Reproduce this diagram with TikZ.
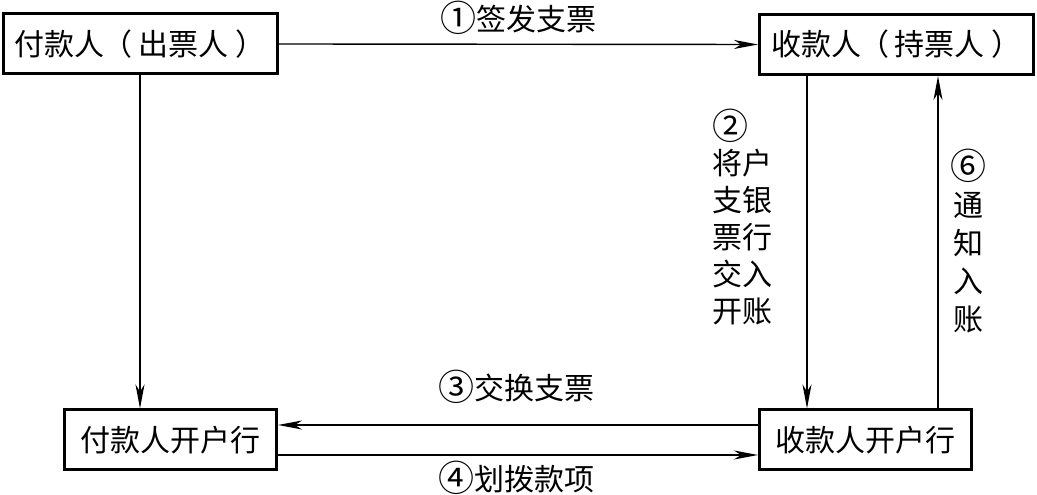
\documentclass[tikz,border=0pt]{standalone}
\usepackage{fontspec}
\usepackage{graphicx}
\newfontfamily\cjk{Noto Sans CJK SC}
\newcommand\circnum[1]{\raisebox{-1.5pt}{\scalebox{1.2}{#1}}}
\usetikzlibrary{arrows.meta}
\begin{document}
\begin{tikzpicture}[x=1pt,y=1pt,
  box/.style={draw,line width=3pt,inner sep=0pt,minimum height=60pt,font=\cjk\fontsize{30}{36}\selectfont},
  arr/.style={line width=1.4pt,-{Stealth[length=24pt,width=9pt,inset=7pt]}},
  lbl/.style={inner sep=0pt,font=\cjk\fontsize{30}{36}\selectfont}]
\useasboundingbox (0,0) rectangle (1037,495);
\node[box,minimum width=274pt] (TL) at (140,451) {付款人\kern-2pt（\kern6pt出票人\kern7pt）};
\node[box,minimum width=274pt] (TR) at (896.5,450.5) {收款人\kern-2pt（\kern6pt持票人\kern7pt）};
\node[box,minimum width=212pt] (BL) at (170.5,55) {付款人开户行};
\node[box,minimum width=212pt] (BR) at (865.5,55) {收款人开户行};
% 1
\draw[arr] (TL.east) -- node[lbl,midway,yshift=26pt] {\circnum{①}签发支票} (TR.west);
% payer -> payer bank
\draw[arr] (TL.south) -- (TL.south |- BL.north);
% 2
\draw[arr] ([xshift=-89.5pt]TR.south) -- ([xshift=-89.5pt]TR.south |- BR.north);
% 6
\draw[arr] ([xshift=72.5pt]BR.north) -- ([xshift=72.5pt]BR.north |- TR.south);
% 3
\draw[arr] ([yshift=15pt]BR.west) -- ([yshift=15pt]BR.west -| BL.east);
% 4
\draw[arr] ([yshift=-15pt]BL.east) -- ([yshift=-15pt]BL.east -| BR.west);
\node[lbl] (l3) at (516,108) {\circnum{③}交换支票};
\node[lbl] (l4) at (516,17) {\circnum{④}划拨款项};
\node[lbl,align=left,font=\cjk\fontsize{30}{37}\selectfont] (l2) at (742.5,278) {\circnum{②}\\将户\\支银\\票行\\交入\\开账};
\node[lbl,align=center,font=\cjk\fontsize{30}{38}\selectfont] (l6) at (968,254) {\circnum{⑥}\\通\\知\\入\\账};
\end{tikzpicture}
\end{document}
